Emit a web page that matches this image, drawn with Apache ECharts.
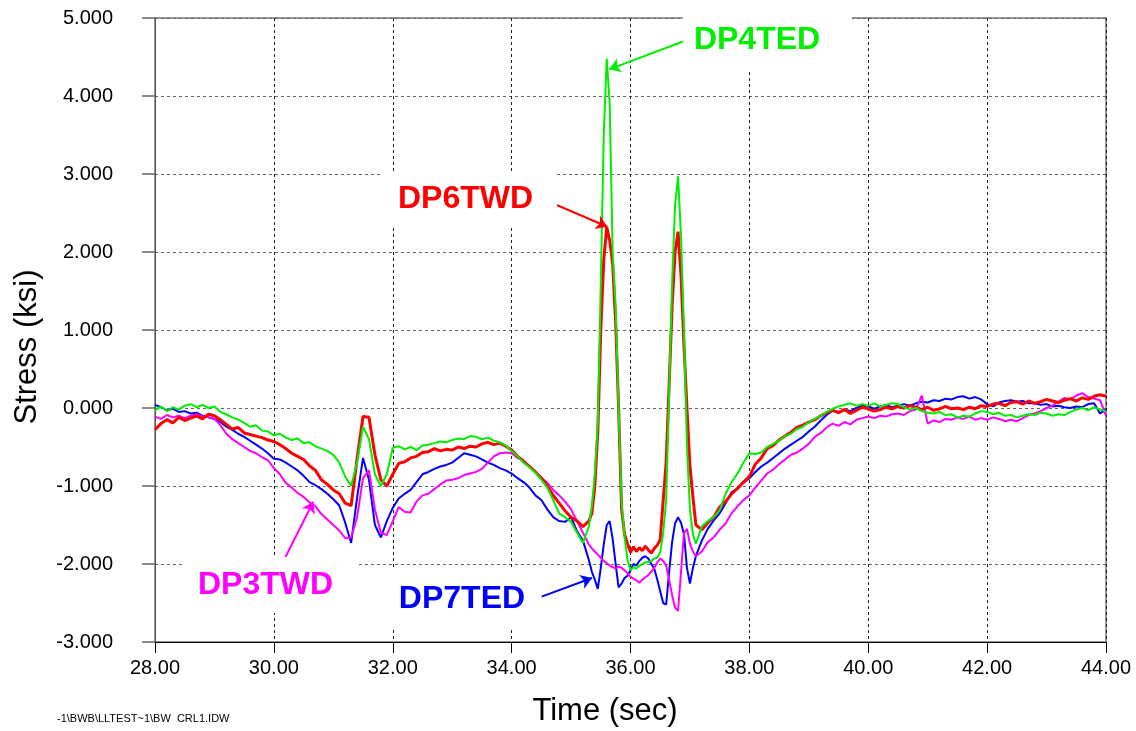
<!DOCTYPE html>
<html>
<head>
<meta charset="utf-8">
<title>Stress vs Time</title>
<script src="https://cdn.jsdelivr.net/npm/echarts@6/dist/echarts.min.js"></script>
<style>
  html, body { margin: 0; padding: 0; background: #fff; }
  #chart { width: 1136px; height: 731px; }
</style>
</head>
<body>
<div id="chart"></div>
<script>
// sample times (sec): 0.1 s steps, 0.05 s around the two peaks
const timeSec = [
  28.0,28.1,28.2,28.3,28.4,28.5,28.6,28.7,28.8,28.9,
  29.0,29.1,29.2,29.3,29.4,29.5,29.6,29.7,29.8,29.9,
  30.0,30.1,30.2,30.3,30.4,30.5,30.6,30.7,30.8,30.9,
  31.0,31.1,31.2,31.3,31.4,31.5,31.6,31.7,31.8,31.9,
  32.0,32.1,32.2,32.3,32.4,32.5,32.6,32.7,32.8,32.9,
  33.0,33.1,33.2,33.3,33.4,33.5,33.6,33.7,33.8,33.9,
  34.0,34.1,34.2,34.3,34.4,34.5,34.6,34.7,34.8,34.9,
  35.0,35.1,35.2,35.3,
  35.35,35.4,35.45,35.5,35.55,35.6,35.65,35.7,35.75,35.8,35.85,35.9,35.95,
  36.0,36.05,36.1,36.15,36.2,36.25,36.3,36.35,36.4,36.45,36.5,36.55,36.6,
  36.65,36.7,36.75,36.8,36.85,36.9,36.95,37.0,37.05,37.1,
  37.2,37.3,37.4,37.5,37.6,37.7,37.8,37.9,
  38.0,38.1,38.2,38.3,38.4,38.5,38.6,38.7,38.8,38.9,
  39.0,39.1,39.2,39.3,39.4,39.5,39.6,39.7,39.8,39.9,
  40.0,40.1,40.2,40.3,40.4,40.5,40.6,40.7,40.8,40.9,
  41.0,41.1,41.2,41.3,41.4,41.5,41.6,41.7,41.8,41.9,
  42.0,42.1,42.2,42.3,42.4,42.5,42.6,42.7,42.8,42.9,
  43.0,43.1,43.2,43.3,43.4,43.5,43.6,43.7,43.8,43.9,
  44.0
]

// stress (ksi)
const dp4ted = [
  -0.03,0.02,-0.04,0.01,-0.02,0.03,0.05,0.01,0.04,0.00,
  0.02,-0.05,-0.08,-0.12,-0.15,-0.19,-0.24,-0.22,-0.29,-0.30,
  -0.35,-0.33,-0.38,-0.41,-0.39,-0.45,-0.44,-0.49,-0.52,-0.55,
  -0.60,-0.70,-0.88,-1.00,-0.70,-0.24,-0.40,-0.85,-1.00,-0.85,
  -0.51,-0.49,-0.53,-0.50,-0.54,-0.48,-0.47,-0.45,-0.43,-0.44,
  -0.41,-0.39,-0.40,-0.36,-0.37,-0.40,-0.38,-0.42,-0.44,-0.48,
  -0.55,-0.62,-0.70,-0.76,-0.83,-0.92,-1.02,-1.18,-1.35,-1.40,
  -1.46,-1.60,-1.73,-1.52,
  -1.25,-0.85,-0.20,1.60,3.50,4.48,3.90,2.00,1.30,0.00,-1.20,-1.65,-1.95,
  -2.08,-2.04,-2.06,-2.02,-2.00,-1.98,-1.97,-1.96,-1.93,-1.92,-1.85,-1.60,-1.18,
  0.20,1.60,2.60,2.97,2.20,1.00,-0.50,-1.30,-1.62,-1.74,
  -1.52,-1.45,-1.40,-1.31,-1.10,-0.95,-0.84,-0.70,
  -0.58,-0.59,-0.57,-0.50,-0.46,-0.42,-0.36,-0.33,-0.27,-0.24,
  -0.18,-0.14,-0.10,-0.05,-0.01,0.02,0.04,0.06,0.03,0.05,
  0.03,0.06,0.02,0.04,0.06,0.05,0.01,-0.02,0.00,-0.04,
  -0.06,-0.07,-0.05,-0.09,-0.08,-0.12,-0.10,-0.11,-0.07,-0.04,
  -0.05,-0.08,-0.06,-0.10,-0.09,-0.12,-0.10,-0.08,-0.09,-0.06,
  -0.07,-0.10,-0.08,-0.09,-0.05,-0.02,0.00,-0.03,0.01,-0.02,
  -0.04
]

const dp6twd = [
  -0.28,-0.20,-0.15,-0.19,-0.12,-0.16,-0.13,-0.10,-0.14,-0.08,
  -0.10,-0.15,-0.21,-0.27,-0.25,-0.32,-0.34,-0.36,-0.38,-0.41,
  -0.43,-0.47,-0.52,-0.58,-0.62,-0.66,-0.74,-0.80,-0.92,-0.98,
  -1.05,-1.10,-1.22,-1.25,-0.65,-0.11,-0.12,-0.60,-0.92,-1.00,
  -0.85,-0.71,-0.69,-0.64,-0.62,-0.57,-0.56,-0.52,-0.55,-0.53,
  -0.54,-0.50,-0.52,-0.49,-0.50,-0.46,-0.44,-0.47,-0.45,-0.49,
  -0.54,-0.62,-0.68,-0.75,-0.82,-0.90,-1.00,-1.12,-1.22,-1.32,
  -1.40,-1.45,-1.52,-1.45,
  -1.35,-1.00,-0.30,1.00,1.90,2.32,2.15,1.85,1.10,0.00,-1.30,-1.62,-1.74,
  -1.85,-1.78,-1.84,-1.79,-1.83,-1.77,-1.82,-1.86,-1.80,-1.76,-1.69,-1.18,-0.70,
  0.30,1.30,2.00,2.26,1.70,0.80,0.00,-0.75,-1.14,-1.50,
  -1.56,-1.47,-1.40,-1.27,-1.20,-1.10,-1.03,-0.95,
  -0.88,-0.72,-0.64,-0.52,-0.48,-0.41,-0.36,-0.31,-0.25,-0.22,
  -0.18,-0.15,-0.10,-0.06,-0.03,-0.06,-0.02,-0.07,-0.03,0.01,
  -0.01,-0.04,-0.02,0.01,-0.01,0.02,0.00,0.03,0.01,-0.02,
  0.01,-0.03,-0.01,0.02,-0.01,0.00,-0.02,0.01,-0.01,0.03,
  0.02,0.05,0.06,0.03,0.07,0.08,0.05,0.09,0.06,0.08,
  0.11,0.09,0.07,0.10,0.12,0.09,0.13,0.11,0.15,0.17,
  0.15
]

const dp7ted = [
  0.04,0.01,-0.03,-0.01,-0.05,-0.04,-0.07,-0.06,-0.10,-0.12,
  -0.14,-0.18,-0.24,-0.28,-0.33,-0.37,-0.42,-0.47,-0.52,-0.58,
  -0.65,-0.66,-0.70,-0.75,-0.80,-0.87,-0.95,-0.99,-1.04,-1.10,
  -1.17,-1.25,-1.47,-1.73,-1.15,-0.64,-0.92,-1.50,-1.66,-1.45,
  -1.28,-1.16,-1.10,-1.05,-0.95,-0.85,-0.82,-0.78,-0.75,-0.73,
  -0.70,-0.64,-0.58,-0.60,-0.62,-0.66,-0.70,-0.73,-0.77,-0.80,
  -0.84,-0.90,-0.95,-1.02,-1.12,-1.18,-1.30,-1.40,-1.45,-1.46,
  -1.40,-1.58,-1.70,-1.95,
  -2.10,-2.20,-2.32,-2.05,-1.75,-1.50,-1.45,-1.68,-2.00,-2.30,-2.25,-2.18,-2.15,
  -2.08,-2.00,-2.02,-1.96,-1.92,-1.90,-1.93,-2.00,-2.06,-2.20,-2.35,-2.50,-2.52,
  -2.10,-1.72,-1.48,-1.40,-1.47,-1.62,-2.05,-2.25,-2.05,-1.90,
  -1.70,-1.55,-1.44,-1.35,-1.22,-1.08,-1.04,-0.96,
  -0.90,-0.82,-0.75,-0.70,-0.64,-0.58,-0.52,-0.47,-0.42,-0.37,
  -0.30,-0.24,-0.16,-0.09,-0.03,-0.05,-0.02,-0.04,0.00,0.03,
  0.02,-0.01,0.02,0.04,0.01,0.03,0.05,0.03,0.06,0.08,
  0.07,0.10,0.09,0.12,0.11,0.14,0.15,0.12,0.14,0.11,
  0.05,0.02,0.07,0.09,0.10,0.08,0.09,0.06,0.06,0.04,
  0.05,0.02,0.03,0.01,0.00,0.02,0.01,0.05,0.06,-0.07,
  -0.02
]

const dp3twd = [
  -0.11,-0.14,-0.09,-0.12,-0.10,-0.13,-0.10,-0.08,-0.11,-0.12,
  -0.14,-0.22,-0.33,-0.40,-0.45,-0.50,-0.55,-0.58,-0.63,-0.67,
  -0.77,-0.85,-0.96,-1.02,-1.09,-1.14,-1.21,-1.26,-1.36,-1.43,
  -1.50,-1.57,-1.67,-1.66,-1.40,-0.90,-0.80,-1.30,-1.60,-1.63,
  -1.45,-1.27,-1.33,-1.34,-1.20,-1.12,-1.10,-1.04,-0.98,-0.93,
  -0.92,-0.90,-0.86,-0.84,-0.82,-0.78,-0.70,-0.62,-0.58,-0.57,
  -0.58,-0.64,-0.68,-0.75,-0.82,-0.89,-0.96,-1.05,-1.12,-1.20,
  -1.30,-1.45,-1.60,-1.75,
  -1.80,-1.84,-1.88,-1.92,-1.96,-1.99,-2.02,-2.04,-2.06,-2.03,-2.05,-2.08,-2.12,
  -2.16,-2.19,-2.21,-2.24,-2.20,-2.17,-2.14,-2.10,-2.05,-1.98,-1.93,-1.96,-2.02,
  -2.20,-2.40,-2.56,-2.60,-2.10,-1.60,-1.55,-1.74,-1.84,-1.90,
  -1.84,-1.72,-1.66,-1.56,-1.48,-1.35,-1.26,-1.18,
  -1.12,-1.02,-0.93,-0.84,-0.79,-0.72,-0.66,-0.60,-0.57,-0.52,
  -0.46,-0.37,-0.32,-0.25,-0.20,-0.23,-0.18,-0.21,-0.15,-0.13,
  -0.11,-0.13,-0.10,-0.11,-0.08,-0.07,-0.09,-0.04,-0.02,0.16,
  -0.20,-0.16,-0.18,-0.14,-0.15,-0.12,-0.14,-0.11,-0.15,-0.13,
  -0.15,-0.12,-0.14,-0.17,-0.15,-0.17,-0.13,-0.09,-0.07,-0.04,
  0.00,0.03,0.08,0.13,0.11,0.16,0.19,0.14,0.12,0.10,
  -0.10
]

const xTicks = { min: 28, max: 44, step: 2 }
const yTicks = { min: -3, max: 5, step: 1 }

// callouts: label box centre and arrow tail/head, in data units (sec, ksi)
const callouts = {
  DP4TED: { box: [38.305, 4.718], from: [36.917, 4.709], to: [35.643, 4.342], pad: [14, 32, 14, 11] },
  DP6TWD: { box: [33.30, 2.673], from: [34.758, 2.603], to: [35.61, 2.324], pad: [10, 24, 13, 15] },
  DP3TWD: { box: [29.952, -2.269], from: [30.187, -1.923], to: [30.663, -1.201], pad: [12, 24, 12, 13] },
  DP7TED: { box: [33.173, -2.449], from: [34.506, -2.419], to: [35.352, -2.179], pad: [13, 15, 13, 14] },
}

const FONT = '"Liberation Sans", Arial, sans-serif'

function pairs(values) {
  return timeSec.map((t, i) => [t, values[i]])
}

function makeSeries(name, values, color, width) {
  const c = callouts[name]
  return {
    name,
    type: 'line',
    data: pairs(values),
    showSymbol: false,
    symbol: 'none',
    smooth: false,
    animation: false,
    lineStyle: { color, width },
    itemStyle: { color },
    markLine: {
      silent: true,
      animation: false,
      symbol: ['none', 'arrow'],
      symbolSize: 11,
      label: { show: false },
      lineStyle: { color, width: 2, type: 'solid' },
      data: [[{ coord: c.from }, { coord: c.to }]],
    },
    markPoint: {
      silent: true,
      animation: false,
      symbol: 'circle',
      symbolSize: 1,
      itemStyle: { color: 'rgba(0,0,0,0)' },
      label: {
        show: true,
        position: 'inside',
        formatter: name,
        color,
        fontFamily: FONT,
        fontSize: 32,
        fontWeight: 'bold',
        lineHeight: 32,
        backgroundColor: '#ffffff',
        padding: c.pad,
      },
      data: [{ coord: c.box, value: name }],
    },
  }
}

const chart = echarts.init(document.getElementById('chart'), null, { renderer: 'canvas' })

chart.setOption({
  backgroundColor: '#ffffff',
  animation: false,
  grid: {
    left: 155, right: 30, top: 18, bottom: 89,
    show: true,
    borderColor: '#777',
    borderWidth: 1.5,
  },
  xAxis: {
    type: 'value',
    min: xTicks.min,
    max: xTicks.max,
    interval: xTicks.step,
    axisLine: { show: true, onZero: false, lineStyle: { color: '#000', width: 1 } },
    axisTick: { show: true, inside: false, length: 11, lineStyle: { color: '#000' } },
    axisLabel: {
      color: '#000', fontFamily: FONT, fontSize: 20, margin: 16,
      formatter: v => v.toFixed(2),
    },
    splitLine: { show: true, lineStyle: { color: '#222', type: [3, 3], width: 1 } },
  },
  yAxis: {
    type: 'value',
    min: yTicks.min,
    max: yTicks.max,
    interval: yTicks.step,
    axisLine: { show: true, onZero: false, lineStyle: { color: '#555', width: 1 } },
    axisTick: { show: true, inside: false, length: 13, lineStyle: { color: '#666', width: 1.5 } },
    axisLabel: {
      color: '#000', fontFamily: FONT, fontSize: 20, margin: 42,
      formatter: v => v.toFixed(3),
    },
    splitLine: { show: true, lineStyle: { color: '#666', type: [3, 3], width: 1 } },
  },
  graphic: [
    {
      type: 'text', x: 27, y: 347, rotation: Math.PI / 2,
      style: { text: 'Stress (ksi)', fill: '#000', font: '31px ' + FONT, align: 'center', verticalAlign: 'middle' },
    },
    {
      type: 'text', x: 605, y: 711,
      style: { text: 'Time (sec)', fill: '#000', font: '31px ' + FONT, align: 'center', verticalAlign: 'middle' },
    },
    {
      type: 'text', x: 57, y: 719,
      style: { text: '-1\\BWB\\LLTEST~1\\BW  CRL1.IDW', fill: '#000', font: '11px ' + FONT, align: 'left', verticalAlign: 'middle' },
    },
  ],
  series: [
    makeSeries('DP7TED', dp7ted, '#0000ff', 2),
    makeSeries('DP3TWD', dp3twd, '#ff00ff', 2),
    makeSeries('DP6TWD', dp6twd, '#ff0000', 3),
    makeSeries('DP4TED', dp4ted, '#00ee00', 2),
  ],
})

window.addEventListener('resize', () => chart.resize())
</script>
</body>
</html>
